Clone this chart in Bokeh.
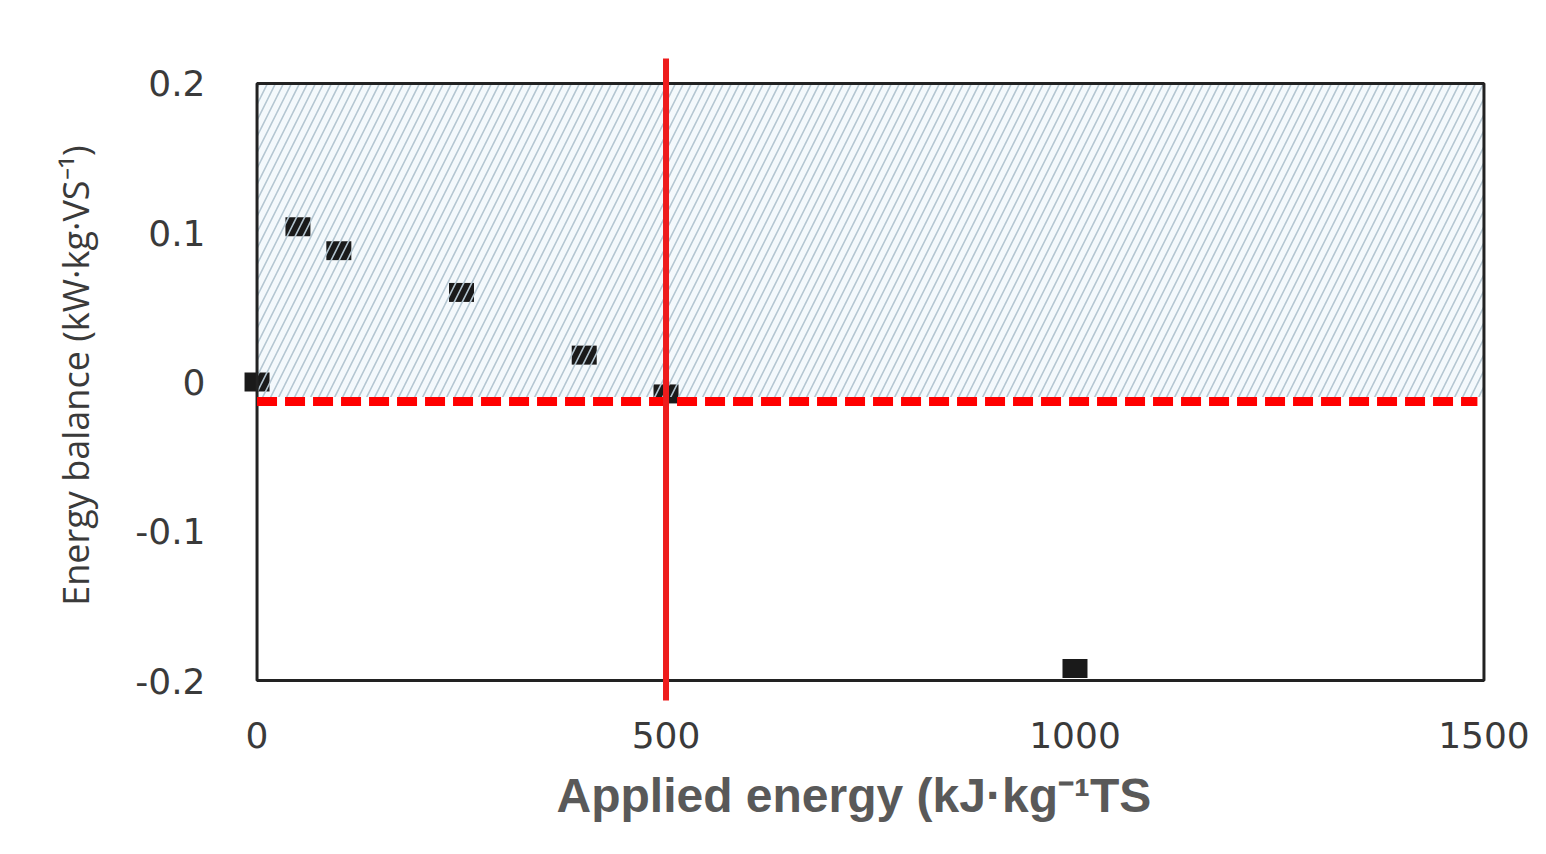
from bokeh.plotting import figure
from bokeh.models import Range1d, FixedTicker, Title
from bokeh.embed import file_html
from bokeh.resources import INLINE

# ---- data ----
applied_energy = [0, 50, 100, 250, 400, 500, 1000]
energy_balance = [0.0, 0.104, 0.088, 0.060, 0.018, -0.008, -0.192]

x_ticks = [0, 500, 1000, 1500]
y_ticks = [-0.2, -0.1, 0, 0.1, 0.2]
y_tick_labels = ["-0.2", "-0.1", "0", "0.1", "0.2"]

threshold_energy = 500          # vertical red line
threshold_balance = -0.013      # dashed red line
shaded_bottom = -0.010          # bottom of hatched zone
x_min, x_max = 0, 1500
y_min, y_max = -0.2, 0.2

p = figure(width=1530, height=838, output_backend="svg", toolbar_location=None,
           x_range=Range1d(-30, 1530), y_range=Range1d(-0.2201, 0.2288),
           min_border_left=232, min_border_right=22,
           min_border_top=40, min_border_bottom=128)
p.outline_line_color = None
p.grid.visible = False
p.background_fill_color = "white"

# hatched favourable zone
p.quad(left=[x_min], right=[x_max], bottom=[shaded_bottom], top=[y_max],
       fill_color="#f4f9fc", line_color=None)

# markers
p.rect(x=applied_energy, y=energy_balance, width=25, height=19,
       width_units="screen", height_units="screen",
       fill_color="#1a1a1a", line_color=None)

# hatch overlay
p.quad(left=[x_min], right=[x_max], bottom=[shaded_bottom], top=[y_max],
       fill_alpha=0, line_color=None, hatch_pattern="/",
       hatch_color="#b4c6d1", hatch_scale=16, hatch_weight=1.6)

# plot box
p.quad(left=[x_min], right=[x_max], bottom=[y_min], top=[y_max],
       fill_alpha=0, line_color="#222222", line_width=3)

# dashed threshold
p.line(x=[x_min, 1492], y=[threshold_balance, threshold_balance],
       line_color="#ff0000", line_width=9, line_dash="20 8")

# vertical threshold line
p.line(x=[threshold_energy, threshold_energy], y=[-0.2134, 0.2168],
       line_color="#ee1c1c", line_width=6)

# axes
p.xaxis.ticker = FixedTicker(ticks=x_ticks)
p.yaxis.ticker = FixedTicker(ticks=y_ticks)
p.yaxis.major_label_overrides = {t: l for t, l in zip(y_ticks, y_tick_labels)}
for ax in (p.xaxis[0], p.yaxis[0]):
    ax.axis_line_color = None
    ax.major_tick_line_color = None
    ax.minor_tick_line_color = None
    ax.major_label_text_font = "DejaVu Sans"
    ax.major_label_text_font_size = "36px"
    ax.major_label_text_color = "#3a3a3a"
p.xaxis.major_label_standoff = 5
p.yaxis.major_label_standoff = 21

p.yaxis.axis_label = "Energy balance (kW·kg·VS⁻¹)"
p.yaxis.axis_label_text_font = "Open Sans"
p.yaxis.axis_label_text_font_style = "normal"
p.yaxis.axis_label_text_font_size = "36px"
p.yaxis.axis_label_text_color = "#3a3a3a"
p.yaxis.axis_label_standoff = 32

p.add_layout(Title(text="Applied energy (kJ·kg⁻¹TS", align="left", offset=324,
                   vertical_align="bottom",
                   text_font="Liberation Sans", text_font_style="bold",
                   text_font_size="48px", text_color="#595959",
                   standoff=33), "below")

open("out.html", "w").write(file_html(p, INLINE))
